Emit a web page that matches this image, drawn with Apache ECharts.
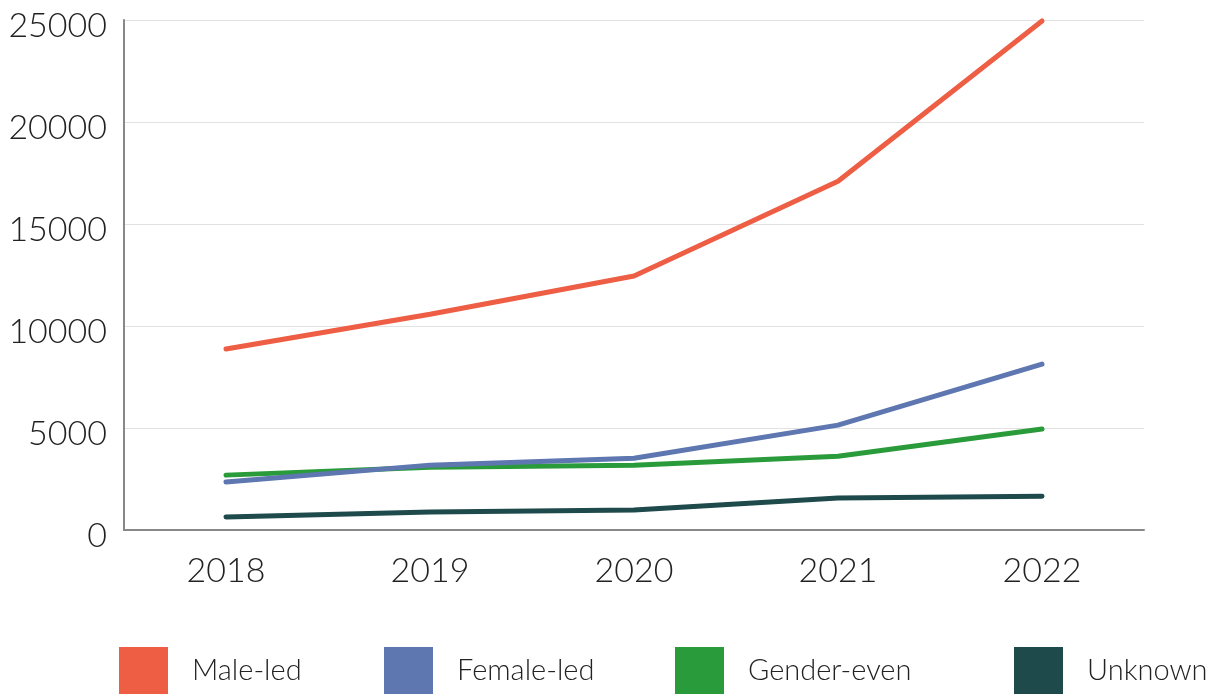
<!DOCTYPE html>
<html>
<head>
<meta charset="utf-8">
<script src="https://cdn.jsdelivr.net/npm/echarts@6/dist/echarts.min.js"></script>
<style>
  html, body { margin: 0; padding: 0; background: #fff; }
  #chart { width: 1217px; height: 694px; }
</style>
</head>
<body>
<div id="chart"></div>
<script>
// categories and values
const years = ['2018', '2019', '2020', '2021', '2022'];
const maleLed = [8870, 10580, 12450, 17100, 24950];
const femaleLed = [2350, 3180, 3520, 5140, 8130];
const genderEven = [2690, 3080, 3180, 3620, 4950];
const unknown = [640, 880, 980, 1570, 1660];

const seriesNames = ['Male-led', 'Female-led', 'Gender-even', 'Unknown'];
const seriesColors = ['#EE5E45', '#5E77B0', '#2A9B3A', '#1F4A4B'];
const seriesData = [maleLed, femaleLed, genderEven, unknown];

const font = 'Lato, "Open Sans", sans-serif';
const legendLeft = [119, 384, 675, 1014];

let myChart = echarts.init(document.getElementById('chart'));

let option = {
  animation: false,
  grid: { left: 124, right: 73, top: 20, bottom: 164 },
  legend: seriesNames.map((name, i) => ({
    data: [name],
    left: legendLeft[i],
    top: 647,
    icon: 'rect',
    itemWidth: 49,
    itemHeight: 47,
    itemGap: 0,
    padding: 0,
    selectedMode: false,
    textStyle: {
      color: '#222',
      fontSize: 29,
      fontWeight: 300,
      fontFamily: font,
      padding: [0, 0, 0, 19]
    }
  })),
  xAxis: {
    type: 'category',
    data: years,
    boundaryGap: true,
    axisTick: { show: false },
    axisLine: { show: true, lineStyle: { color: '#888', width: 2 } },
    axisLabel: {
      color: '#222',
      fontSize: 34,
      fontWeight: 300,
      fontFamily: font,
      margin: 24
    }
  },
  yAxis: {
    type: 'value',
    min: 0,
    max: 25000,
    interval: 5000,
    axisTick: { show: false },
    axisLine: { show: true, lineStyle: { color: '#888', width: 2 } },
    axisLabel: {
      color: '#222',
      fontSize: 34,
      fontWeight: 300,
      fontFamily: font,
      margin: 17,
      verticalAlign: 'top',
      lineHeight: 12,
      formatter: (v) => String(v)
    },
    splitLine: { show: true, lineStyle: { color: '#e2e2e2', width: 1 } }
  },
  series: seriesNames.map((name, i) => ({
    name: name,
    type: 'line',
    data: seriesData[i],
    showSymbol: false,
    symbol: 'none',
    color: seriesColors[i],
    lineStyle: { width: 5, color: seriesColors[i], cap: 'round' },
    z: 10 - i
  }))
};

myChart.setOption(option);
</script>
</body>
</html>
